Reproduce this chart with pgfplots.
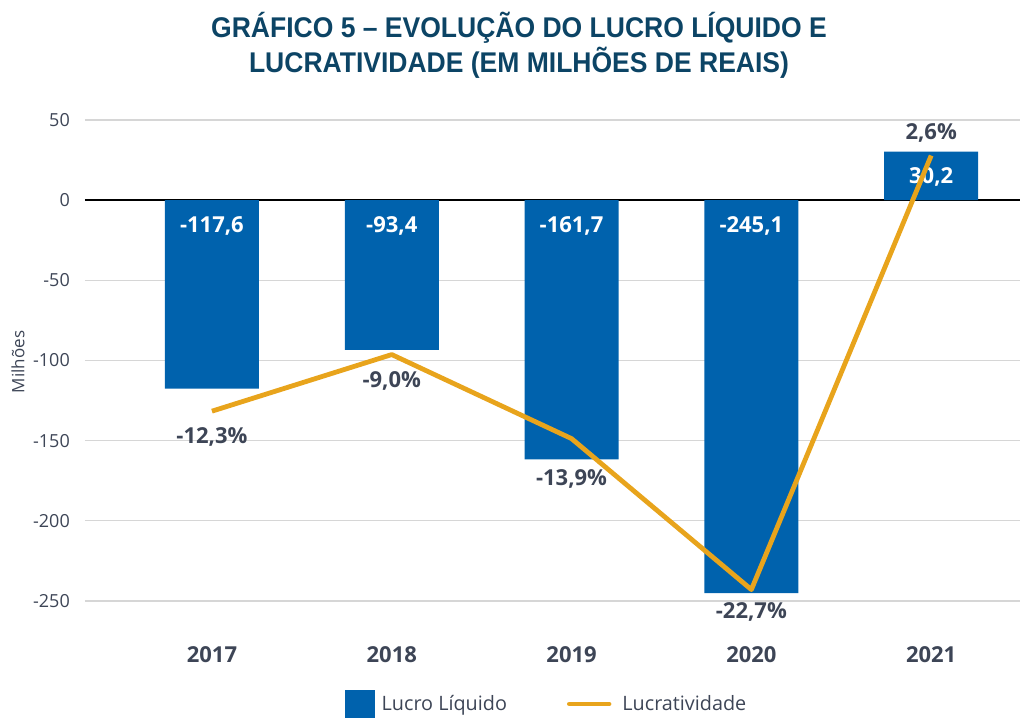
\documentclass[border=0pt]{standalone}
\usepackage{pgfplots}
\usepackage{pgfplotstable}
\pgfplotsset{compat=1.18}
\usepackage{fontspec}
\setmainfont{Open Sans}
\newfontfamily\titlefont[FakeStretch=0.93]{Liberation Sans}
\definecolor{barblue}{HTML}{0062AD}
\definecolor{lineor}{HTML}{E8A41C}
\definecolor{txt}{HTML}{3D4556}
\definecolor{ttl}{HTML}{0C4465}
\definecolor{gridc}{HTML}{D6D6D6}
\pgfplotstableread{
x lucro pct ly
0 -117.6 -12.3 -147.8
1 -93.4 -9.0 -112.8
2 -161.7 -13.9 -173.9
3 -245.1 -22.7 -256.9
4 30.2 2.6 41.8
}\data
\pgfplotsset{
  common/.style={
    scale only axis, width=935pt, height=481pt,
    xmin=-0.706, xmax=4.494,
    clip=false,
  }
}
\begin{document}
\begin{tikzpicture}
\path[use as bounding box] (-85pt,-117pt) rectangle (935pt,601pt);
\begin{axis}[
  common,
  ymin=-250, ymax=50,
  ytick={-250,-200,...,50},
  xtick={0,1,2,3,4},
  xticklabels={2017,2018,2019,2020,2021},
  ymajorgrids,
  grid style={gridc, line width=1.3pt},
  extra y ticks={0},
  extra y tick labels={},
  extra y tick style={grid style={black, line width=1.6pt}},
  axis line style={draw=none},
  major tick length=0pt,
  /pgf/number format/assume math mode=true,
  yticklabel style={font=\fontsize{18}{18}\selectfont, text=txt, anchor=east, inner sep=0pt, xshift=-15pt},
  xticklabel style={font=\fontsize{22}{22}\bfseries, text=txt, anchor=center, inner sep=0pt, yshift=-54pt},
  ylabel={Milhões},
  ylabel style={font=\fontsize{17}{17}\selectfont, text=txt, at={(axis description cs:-0.0717,0.497)}, anchor=center, rotate=0},
  legend style={at={(axis description cs:0.4925,-0.214)}, anchor=center, draw=none, fill=none,
    inner sep=0pt, outer sep=0pt,
    font=\fontsize{19.8}{19.8}\selectfont, text=txt,
    legend columns=2,
    nodes={inner sep=0pt},
    /tikz/column 1/.style={column sep=7pt},
    /tikz/column 2/.style={column sep=60pt},
    /tikz/column 3/.style={column sep=11pt}},
]
\addplot[ybar, bar width=94pt, fill=barblue, draw=none,
  legend image code/.code={\fill[barblue] (0pt,-14pt) rectangle (30pt,14pt);}]
  table[x=x, y=lucro] {\data};
\addlegendentry{Lucro Líquido}
\addplot[draw=none, mark=none, forget plot,
  nodes near coords={\pgfmathprintnumber[assume math mode=true,use comma,fixed,precision=1,fixed zerofill]{\pgfplotspointmeta}},
  nodes near coords style={font=\fontsize{22}{22}\bfseries, text=white, anchor=center, inner sep=0pt},
  point meta=explicit]
  table[x=x, y expr={\thisrow{lucro}<0 ? -16 : \thisrow{lucro}-16}, meta=lucro] {\data};
\addlegendimage{lineor, line width=4.8pt, legend image code/.code={\draw[lineor, line width=4.8pt, line cap=round] (2.4pt,0pt) -- (42pt,0pt);}}
\addlegendentry{Lucratividade}
\end{axis}
\begin{axis}[
  common,
  ymin=-23.3645, ymax=4.6729,
  hide axis,
]
\addplot[lineor, line width=4.8pt, line join=round, mark=none]
  table[x=x, y=pct] {\data};
\end{axis}
\begin{axis}[
  common,
  ymin=-250, ymax=50,
  hide axis,
]
\addplot[draw=none, mark=none,
  nodes near coords={\pgfmathprintnumber[assume math mode=true,use comma,fixed,precision=1,fixed zerofill]{\pgfplotspointmeta}\%},
  nodes near coords style={font=\fontsize{22}{22}\bfseries, text=txt, anchor=center, inner sep=0pt},
  point meta=explicit]
  table[x=x, y=ly, meta=pct] {\data};
\end{axis}
\node[anchor=base, text=ttl, font=\titlefont\fontsize{28.5}{28.5}\bfseries] at (434pt,563pt) {GRÁFICO 5 – EVOLUÇÃO DO LUCRO LÍQUIDO E};
\node[anchor=base, text=ttl, font=\titlefont\fontsize{28.5}{28.5}\bfseries] at (434pt,528pt) {LUCRATIVIDADE (EM MILHÕES DE REAIS)};
\end{tikzpicture}
\end{document}
